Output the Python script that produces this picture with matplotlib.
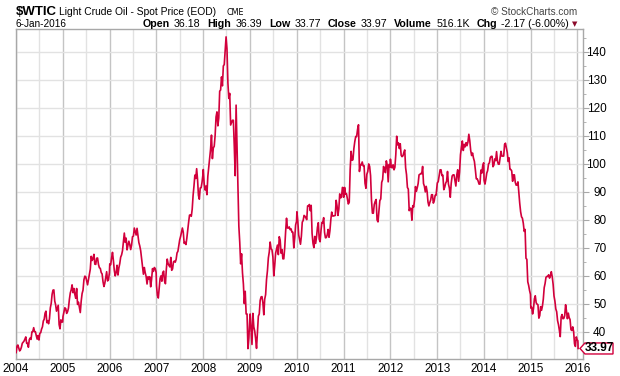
import matplotlib
matplotlib.use('Agg')
import matplotlib.pyplot as plt
import matplotlib.transforms as mtransforms
from matplotlib.patches import Polygon
from matplotlib.ticker import MultipleLocator
import pandas as pd

plt.rcParams['font.family'] = ['Liberation Sans', 'DejaVu Sans']

# ---- data: weekly price readings per year ----
p2004 = [32.5, 34.8, 35.2, 34.1, 33.1, 33.5, 34.4, 35.8, 36.2, 36.6, 37.3, 38.1, 35.8, 35.8,
         34.4, 37.1, 37.7, 37.2, 39.9, 40.0, 41.4, 40.0, 39.9, 38.5, 37.3, 38.6, 37.0,
         39.4, 39.6, 40.9, 41.7, 43.8, 44.4, 46.6, 47.3, 43.2, 43.9, 42.8, 44.6, 48.5,
         50.1, 53.3, 54.8, 54.9, 50.9, 49.6, 47.3, 48.4, 49.4, 42.5, 41.0, 44.2, 43.5, 43.4]
p2005 = [45.4, 46.9, 48.5, 48.2, 46.5, 47.1, 48.4, 51.5, 53.8, 54.9, 56.7, 53.9, 55.4,
         53.3, 51.9, 55.4, 49.7, 50.5, 48.7, 46.8, 50.9, 53.6, 54.8, 58.5, 59.8,
         59.6, 58.1, 56.7, 58.6, 60.6, 62.3, 66.9, 65.4, 66.1, 67.6, 64.1, 64.0, 66.2, 66.3,
         64.0, 62.8, 62.6, 61.1, 60.6, 57.8, 56.1, 57.3, 59.3, 61.4, 58.1, 58.5, 61.0]
p2006 = [64.2, 63.9, 66.3, 68.3, 65.4, 61.8, 59.9, 61.1, 63.7, 60.2, 62.7, 64.3, 66.6,
         67.4, 68.9, 71.9, 75.2, 71.9, 73.4, 69.2, 70.9, 72.3, 71.1, 69.3, 70.9, 73.9,
         74.1, 77.0, 75.8, 74.5, 76.9, 74.4, 71.8, 70.6, 68.9, 66.2, 63.8, 60.5, 62.9,
         61.0, 59.7, 57.0, 59.6, 58.8, 59.6, 56.0, 58.7, 62.5, 61.5, 62.9, 62.5, 61.1]
p2007 = [56.3, 52.9, 52.0, 55.4, 59.0, 59.9, 58.0, 61.1, 61.6, 58.0, 57.1, 62.3, 65.9,
         64.3, 63.6, 63.1, 66.5, 61.9, 62.4, 64.9, 65.2, 64.8, 65.8, 68.1, 68.7, 70.7,
         72.8, 74.0, 75.6, 77.0, 75.5, 71.5, 71.9, 71.1, 73.4, 76.3, 79.1, 81.6, 81.7,
         81.2, 83.7, 88.6, 92.0, 95.9, 94.7, 98.2, 94.4, 88.7, 87.3, 91.3, 91.4, 93.3, 96.0]
p2008 = [97.9, 92.7, 90.6, 92.0, 88.9, 95.5, 98.8, 101.8, 105.2, 110.2, 101.8, 105.6,
         106.2, 110.1, 116.7, 118.5, 113.5, 116.3, 125.9, 126.3, 131.0, 127.8, 134.9, 135.4, 140.2,
         145.3, 141.0, 128.9, 123.3, 125.1, 113.8, 114.6, 115.5, 115.5, 106.2, 95.7, 120.9, 106.9,
         93.9, 77.7, 71.9, 64.2, 67.8, 61.0, 57.0, 50.0, 54.4, 46.3, 46.3, 33.9, 37.7, 44.6]
p2009 = [46.3, 40.8, 35.4, 46.5, 41.7, 40.2, 37.5, 34.0, 40.0, 45.5, 46.3, 51.1, 52.4,
         52.5, 50.3, 46.0, 51.6, 53.2, 58.6, 61.7, 66.3, 68.4, 72.0, 69.6, 69.2,
         66.7, 59.9, 63.6, 68.0, 69.5, 70.9, 67.5, 73.9, 72.7, 68.0, 69.3, 66.0, 66.0,
         69.9, 75.7, 80.5, 77.0, 77.0, 77.4, 76.4, 76.7, 75.5, 75.5, 69.9, 73.4, 78.1, 79.4]
p2010 = [82.8, 79.4, 74.5, 72.9, 71.2, 74.1, 79.1, 79.7, 81.5, 81.2, 80.7, 80.0, 84.9,
         84.9, 85.4, 83.2, 85.1, 75.1, 71.6, 70.0, 74.0, 71.5, 73.8, 77.2, 78.9, 73.0,
         72.1, 76.1, 79.0, 78.9, 80.7, 75.4, 73.5, 73.6, 74.6, 76.5, 73.7, 76.0, 79.9,
         82.7, 81.3, 81.3, 81.4, 81.5, 86.9, 84.9, 81.5, 83.8, 89.2, 87.8, 88.0, 91.5, 91.4]
p2011 = [88.0, 91.5, 89.1, 89.3, 87.5, 85.6, 86.2, 97.9, 104.4, 101.2, 101.4, 105.4,
         107.9, 109.7, 109.7, 112.3, 113.9, 97.2, 99.7, 99.5, 100.6, 99.2, 99.3, 93.0, 91.2,
         96.2, 97.2, 99.9, 99.0, 95.7, 86.9, 82.3, 82.3, 85.4, 86.5, 87.2, 79.9, 79.2,
         83.0, 86.8, 87.4, 93.3, 94.3, 99.0, 97.7, 96.8, 101.0, 99.4, 93.5, 99.7, 98.8]
p2012 = [101.6, 98.7, 98.5, 99.6, 97.8, 98.7, 103.2, 109.8, 106.7, 107.4, 105.4, 107.1, 103.0,
         102.5, 102.8, 104.0, 104.9, 98.5, 96.1, 91.5, 90.9, 83.2, 84.1, 84.0, 79.8, 85.0,
         84.5, 87.1, 91.8, 90.1, 91.4, 92.9, 96.0, 96.2, 96.5, 96.4, 99.0, 92.9, 91.9,
         89.9, 91.9, 90.1, 86.3, 84.9, 86.1, 87.0, 88.9, 88.9, 85.9, 86.7, 88.7, 88.7, 91.8]
p2013 = [93.1, 93.6, 95.6, 97.8, 97.8, 95.7, 95.9, 90.7, 91.6, 93.0, 93.7, 97.2,
         92.7, 91.3, 88.0, 93.0, 95.6, 96.0, 96.0, 94.1, 92.0, 96.0, 97.8, 93.7, 97.0,
         103.2, 105.9, 108.1, 104.7, 106.9, 106.0, 107.5, 106.4, 107.7, 110.5, 108.2, 104.7, 102.9,
         103.8, 102.0, 100.8, 97.9, 94.6, 94.6, 93.8, 92.7, 92.7, 97.7, 96.6, 99.3, 100.3]
p2014 = [94.0, 92.7, 94.4, 96.6, 97.5, 99.9, 100.3, 102.2, 102.6, 102.6, 98.9, 99.5, 101.7,
         101.1, 104.3, 100.9, 99.8, 99.8, 102.0, 104.4, 102.7, 102.7, 102.7, 106.9, 107.3, 105.7,
         104.0, 100.8, 102.1, 98.0, 97.9, 97.4, 93.7, 96.0, 96.0, 93.3, 92.3, 92.4, 93.5,
         89.7, 85.8, 82.8, 81.0, 80.5, 78.7, 75.8, 76.5, 66.2, 65.8, 57.8, 56.5, 54.7, 53.3]
p2015 = [48.4, 48.7, 46.3, 48.2, 51.7, 52.8, 50.3, 49.8, 49.6, 44.8, 45.7, 48.9, 47.6,
         49.1, 51.6, 55.7, 57.2, 59.4, 59.7, 59.7, 60.3, 59.1, 60.0, 61.4, 59.6,
         56.9, 52.7, 50.9, 48.1, 47.1, 43.9, 42.5, 40.5, 38.2, 45.2, 46.1, 44.6, 44.7, 45.7,
         49.6, 47.3, 44.6, 46.6, 45.0, 44.3, 40.7, 40.4, 41.7, 40.0, 35.6, 34.7, 38.1, 37.0]
p2016 = [36.76, 35.97, 33.97]
p2016_dates = ['2016-01-04', '2016-01-05', '2016-01-06']

last_label = "33.97"
year_labels = [str(y) for y in range(2004, 2017)]
y_ticks = list(range(40, 150, 10))

header_date = "6-Jan-2016"
header_items = [("Open", "36.18"), ("High", "36.39"), ("Low", "33.77"),
                ("Close", "33.97"), ("Volume", "516.1K"), ("Chg", "-2.17 (-6.00%)")]

yearly = {2004: p2004, 2005: p2005, 2006: p2006, 2007: p2007, 2008: p2008, 2009: p2009,
          2010: p2010, 2011: p2011, 2012: p2012, 2013: p2013, 2014: p2014, 2015: p2015}
dates, prices = [], []
for yr, vals in yearly.items():
    dates += list(pd.date_range(f'{yr}-01-02', f'{yr}-12-30', periods=len(vals)))
    prices += vals
dates += [pd.Timestamp(d) for d in p2016_dates]
prices += p2016

W, H = 620, 376
fig = plt.figure(figsize=(W / 100, H / 100), dpi=100)
ax = fig.add_axes([16 / W, 1 - 359.3 / H, (582.7 - 16) / W, (359.3 - 29.3) / H])

red = '#D2003C'
ax.plot(dates, prices, color=red, lw=1.2, zorder=3)

ax.set_xlim(pd.Timestamp('2004-01-01'), pd.Timestamp('2016-02-11'))
ax.set_ylim(30.1, 148)

# grid
for y in range(2004, 2017):
    ax.axvline(pd.Timestamp(f'{y}-01-01'), color='#c4c4c4', lw=1.0, zorder=1)
    if y < 2016:
        ax.axvline(pd.Timestamp(f'{y}-07-01'), color='#e2e2e2', lw=1.0, zorder=1)
for v in y_ticks:
    ax.axhline(v, color='#e2e2e2', lw=1.0, zorder=1)

for s in ax.spines.values():
    s.set_color('#a8a8a8')
    s.set_linewidth(1.0)

ax.set_xticks([pd.Timestamp(f'{y}-01-01') for y in range(2004, 2017)])
ax.set_xticklabels(year_labels)
ax.tick_params(axis='x', length=0, pad=3, labelsize=8.5, colors='black')

ax.yaxis.tick_right()
ax.set_yticks(y_ticks)
ax.set_yticklabels([str(v) for v in y_ticks])
ax.yaxis.set_minor_locator(MultipleLocator(5))
ax.tick_params(axis='y', which='major', length=4, color='#a8a8a8', pad=13, labelsize=8.5)
ax.tick_params(axis='y', which='minor', length=2, color='#a8a8a8')
for lbl in ax.get_yticklabels():
    lbl.set_horizontalalignment('right')

# last value tag
trans = mtransforms.blended_transform_factory(fig.transFigure, ax.transData)
last = prices[-1]
hh = 1.97
poly = Polygon([(580 / W, last), (585 / W, last + hh), (613 / W, last + hh),
                (613 / W, last - hh), (585 / W, last - hh)], closed=True,
               facecolor='white', edgecolor=red, lw=1.0, transform=trans,
               clip_on=False, zorder=5)
ax.add_patch(poly)
ax.text(599.5 / W, last, last_label, transform=trans, ha='center', va='center',
        fontsize=8.5, fontweight='bold', color='black', zorder=6, clip_on=False)

renderer = fig.canvas.get_renderer()

def fy(px):
    return 1 - px / H

# header line 1
fig.text(16 / W, fy(14.7), "$WTIC", fontsize=9.5, fontweight='bold', va='baseline')
fig.text(59.3 / W, fy(14.7), "Light Crude Oil - Spot Price (EOD)", fontsize=7.4, va='baseline')
fig.text(226.7 / W, fy(14.7), "CME", fontsize=5.8, va='baseline', family='DejaVu Sans')
fig.text(577 / W, fy(14.7), "\u00a9 StockCharts.com", fontsize=7.2, va='baseline', ha='right',
         color='#444444')

# header line 2
fig.text(16 / W, fy(26.7), header_date, fontsize=7.2, va='baseline')

parts = []
for k, v in header_items:
    parts.append((k, 'bold', 4))
    parts.append((v, 'normal', 7))
start, end = 143, 570

# measure at a reference size, then scale to fit the span
ref = 7.0
widths = []
for s, w, gap in parts:
    t = fig.text(0, 0, s, fontsize=ref, fontweight=w)
    widths.append(t.get_window_extent(renderer).width)
    t.remove()
gaps = sum(g for _, _, g in parts[:-1])
fs = ref * (end - start - gaps) / sum(widths)
x = start
for (s, w, gap) in parts:
    t = fig.text(x / W, fy(26.7), s, fontsize=fs, fontweight=w, va='baseline')
    x += t.get_window_extent(renderer).width + gap
fig.text(575 / W, fy(26.2), "\u25bc", fontsize=5, color='#8B0A2A', va='baseline', ha='center',
         family='DejaVu Sans')

fig.savefig('out.png', dpi=100)
